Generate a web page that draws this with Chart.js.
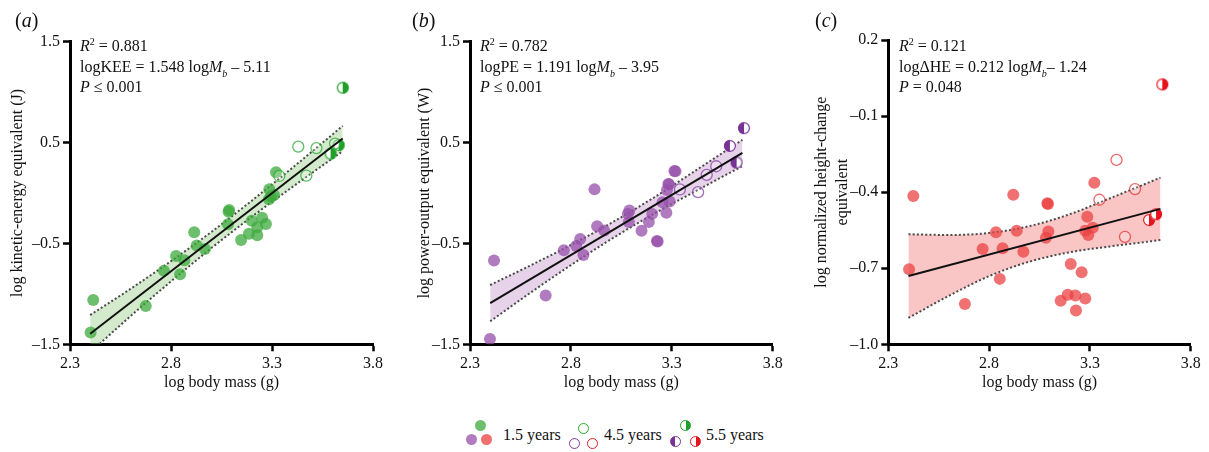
<!DOCTYPE html>
<html><head><meta charset="utf-8">
<script src="https://cdn.jsdelivr.net/npm/chart.js@4/dist/chart.umd.min.js"></script>
<style>
body{margin:0;width:1209px;height:452px;background:#fff;position:relative;overflow:hidden;font-family:"Liberation Serif","DejaVu Serif",serif;color:#111}
canvas{position:absolute;top:0}
.t{position:absolute;font-size:16px;line-height:18.5px;white-space:nowrap}
.t i{font-style:italic}
.sup{font-size:10px;position:relative;top:-6px}
.sub{font-size:10px;position:relative;top:5px;font-style:italic}
.lab{position:absolute;font-size:20px;line-height:22px}
.mk{position:absolute;width:11px;height:11px;border-radius:50%;box-sizing:border-box}
.lt{position:absolute;font-size:16px;line-height:18px;white-space:nowrap}
</style></head><body>
<canvas id="ca" width="400" height="400" style="left:0"></canvas>
<canvas id="cb" width="400" height="400" style="left:400px"></canvas>
<canvas id="cc" width="409" height="400" style="left:800px"></canvas>

<div class="lab" style="left:15px;top:9px">(<i>a</i>)</div>
<div class="lab" style="left:412px;top:9px">(<i>b</i>)</div>
<div class="lab" style="left:815px;top:9px">(<i>c</i>)</div>

<div class="t" style="left:80px;top:37px"><i>R</i><span class="sup">2</span> = 0.881<br>logKEE = 1.548 log<i>M</i><span class="sub">b</span> – 5.11<br><i>P</i> ≤ 0.001</div>
<div class="t" style="left:480px;top:37px"><i>R</i><span class="sup">2</span> = 0.782<br>logPE = 1.191 log<i>M</i><span class="sub">b</span> – 3.95<br><i>P</i> ≤ 0.001</div>
<div class="t" style="left:899px;top:37px"><i>R</i><span class="sup">2</span> = 0.121<br>logΔHE = 0.212 log<i>M</i><span class="sub">b</span>– 1.24<br><i>P</i> = 0.048</div>

<div class="mk" style="left:474.5px;top:419.5px;background:rgb(109,191,109)"></div>
<div class="mk" style="left:466px;top:434px;background:rgb(176,124,191)"></div>
<div class="mk" style="left:481px;top:434px;background:rgb(240,112,112)"></div>
<div class="lt" style="left:503px;top:426px">1.5 years</div>
<div class="mk" style="left:578px;top:423px;border:1.3px solid rgb(40,170,50)"></div>
<div class="mk" style="left:569px;top:438px;border:1.3px solid rgb(130,60,160)"></div>
<div class="mk" style="left:587px;top:438px;border:1.3px solid rgb(230,30,40)"></div>
<div class="lt" style="left:604px;top:426px">4.5 years</div>
<div class="mk" style="left:679.5px;top:420px;border:1.3px solid rgb(30,160,40);background:linear-gradient(to right,#fff 50%,rgb(30,160,40) 50%)"></div>
<div class="mk" style="left:670px;top:435.5px;border:1.3px solid rgb(120,50,150);background:linear-gradient(to right,rgb(120,50,150) 50%,#fff 50%)"></div>
<div class="mk" style="left:689.5px;top:435.5px;border:1.3px solid rgb(230,20,30);background:linear-gradient(to right,#fff 50%,rgb(230,20,30) 50%)"></div>
<div class="lt" style="left:706px;top:426px">5.5 years</div>

<script>
// ---- data ----
const X_TICKS = [2.3, 2.8, 3.3, 3.8];
const A_Y_TICKS = [-1.5, -0.5, 0.5, 1.5];
const B_Y_TICKS = [-1.5, -0.5, 0.5, 1.5];
const C_Y_TICKS = [-1.0, -0.7, -0.4, -0.1, 0.2];

const A_FILLED = [[2.402,-1.384],[2.415,-1.06],[2.675,-1.12],[2.765,-0.77],[2.845,-0.805],[2.825,-0.624],[2.866,-0.667],[2.915,-0.39],[2.927,-0.52],[2.968,-0.555],[3.085,-0.185],[3.082,-0.31],[3.088,-0.168],[3.147,-0.465],[3.186,-0.405],[3.2,-0.274],[3.227,-0.34],[3.227,-0.42],[3.251,-0.245],[3.27,-0.307],[3.287,0.037],[3.294,-0.036],[3.31,-0.02],[3.285,-0.062],[3.32,0.205]];
const A_OPEN = [[3.43,0.46],[3.52,0.445],[3.47,0.172],[3.612,0.49],[3.336,0.169]];
const A_HALF = [[3.65,1.044],[3.63,0.475],[3.59,0.39]];
const A_FIT = [[2.40,-1.395],[3.65,0.54]];

const B_FILLED = [[2.399,-1.447],[2.419,-0.67],[2.675,-1.017],[2.765,-0.568],[2.826,-0.525],[2.846,-0.456],[2.862,-0.614],[2.917,0.036],[2.93,-0.33],[2.965,-0.373],[3.082,-0.207],[3.09,-0.174],[3.087,-0.287],[3.15,-0.375],[3.186,-0.288],[3.203,-0.207],[3.226,-0.475],[3.23,-0.48],[3.254,-0.091],[3.273,-0.195],[3.276,0.03],[3.286,0.087],[3.289,-0.085],[3.313,0.218],[3.318,0.215],[3.283,0.09]];
const B_OPEN = [[3.43,0.008],[3.473,0.18],[3.52,0.265],[3.34,0.035]];
const B_HALF = [[3.658,0.643],[3.588,0.467],[3.621,0.302]];
const B_FIT = [[2.40,-1.092],[3.65,0.397]];

const C_FILLED = [[2.403,-0.704],[2.424,-0.415],[2.68,-0.841],[2.768,-0.624],[2.834,-0.558],[2.853,-0.742],[2.867,-0.621],[2.92,-0.41],[2.937,-0.552],[2.97,-0.635],[3.089,-0.444],[3.092,-0.447],[3.094,-0.555],[3.082,-0.58],[3.155,-0.828],[3.19,-0.805],[3.205,-0.683],[3.228,-0.808],[3.231,-0.867],[3.259,-0.716],[3.277,-0.819],[3.287,-0.497],[3.277,-0.552],[3.292,-0.569],[3.314,-0.54],[3.322,-0.363]];
const C_OPEN = [[3.347,-0.43],[3.474,-0.576],[3.524,-0.388],[3.432,-0.273]];
const C_HALF = [[3.659,0.025],[3.593,-0.51],[3.628,-0.487]];
const C_FIT = [[2.40,-0.731],[3.65,-0.466]];

const BAND_X = [2.40, 2.6, 2.8, 3.0, 3.2, 3.4, 3.65];
const A_UPPER = [-1.21,-0.95,-0.676,-0.386,-0.076,0.248,0.665];
const A_LOWER = [-1.58,-1.22,-0.876,-0.546,-0.236,0.058,0.415];
const B_UPPER = [-0.912,-0.718,-0.515,-0.297,-0.059,0.199,0.527];
const B_LOWER = [-1.272,-0.988,-0.715,-0.457,-0.219,-0.001,0.267];
const C_UPPER = [-0.566,-0.569,-0.561,-0.534,-0.487,-0.424,-0.343];
const C_LOWER = [-0.896,-0.809,-0.731,-0.674,-0.637,-0.614,-0.589];

// ---- drawing ----
function halfMarker(color, leftFilled){
  const c=document.createElement('canvas'); const s=16, r=6; c.width=s; c.height=s;
  const g=c.getContext('2d'); const m=s/2;
  g.beginPath(); g.arc(m,m,r,0,Math.PI*2); g.fillStyle='#fff'; g.fill();
  g.beginPath();
  if(leftFilled) g.arc(m,m,r,Math.PI/2,Math.PI*1.5); else g.arc(m,m,r,-Math.PI/2,Math.PI/2);
  g.closePath(); g.fillStyle=color; g.fill();
  g.beginPath(); g.arc(m,m,r-0.6,0,Math.PI*2); g.lineWidth=1.2; g.strokeStyle=color; g.stroke();
  return c;
}
const fmt = v => (v<0?'–':'') + Math.abs(v).toFixed(1);
const pts = a => a.map(p=>({x:p[0],y:p[1]}));
const FONT = {family:"'Liberation Serif', serif", size:16};

function makePanel(id, c){
  new Chart(document.getElementById(id), {
    type:'line',
    data:{datasets:[
      {data:BAND_X.map((x,i)=>({x,y:c.upper[i]})), borderColor:'#4a4a4a', borderWidth:2, borderDash:[2,2.2], pointRadius:0, fill:'+1', backgroundColor:c.band, cubicInterpolationMode:'monotone', order:5},
      {data:BAND_X.map((x,i)=>({x,y:c.lower[i]})), borderColor:'#4a4a4a', borderWidth:2, borderDash:[2,2.2], pointRadius:0, fill:false, cubicInterpolationMode:'monotone', order:4},
      {data:pts(c.filled), showLine:false, pointRadius:6, pointBackgroundColor:c.fillC, pointBorderColor:'rgba(0,0,0,0)', pointBorderWidth:0, order:3},
      {data:pts(c.open), showLine:false, pointRadius:5.5, pointBackgroundColor:'rgba(255,255,255,0.2)', pointBorderColor:c.openC, pointBorderWidth:1.3, order:2},
      {data:pts(c.half), showLine:false, pointStyle:halfMarker(c.halfC, c.halfLeft), pointRadius:6, order:2},
      {data:pts(c.fit), borderColor:'#111', borderWidth:2, pointRadius:0, fill:false, order:1}
    ]},
    options:{
      responsive:false, animation:false, devicePixelRatio:1, events:[],
      layout:{padding:{top:c.padTop, right:c.padRight, left:0, bottom:0}},
      plugins:{legend:{display:false}, tooltip:{enabled:false}},
      scales:{
        x:{type:'linear', min:2.3, max:3.8,
          afterBuildTicks:s=>{s.ticks=X_TICKS.map(v=>({value:v}));},
          afterFit:s=>{s.height=c.xH;},
          ticks:{callback:v=>fmt(v), color:'#111', font:FONT, padding:3, maxRotation:0, autoSkip:false},
          grid:{drawOnChartArea:false, drawTicks:true, tickLength:7, tickWidth:2.5, tickColor:'#000'},
          border:{display:true, width:3, color:'#000'},
          title:{display:true, text:'log body mass (g)', color:'#111', font:{...FONT, lineHeight:1.3}, padding:{top:0,bottom:6.6}}},
        y:{type:'linear', min:c.yMin, max:c.yMax,
          afterBuildTicks:s=>{s.ticks=c.yTicks.map(v=>({value:v}));},
          afterFit:s=>{s.width=c.yW;},
          ticks:{callback:v=>fmt(v), color:'#111', font:FONT, padding:3, autoSkip:false},
          grid:{drawOnChartArea:false, drawTicks:true, tickLength:7, tickWidth:2.5, tickColor:'#000'},
          border:{display:true, width:3, color:'#000'},
          title:{display:true, text:c.yTitle, color:'#111', font:{...FONT, lineHeight:1.3}, padding:{top:c.yTitlePad,bottom:0}}}
      }
    }
  });
}

makePanel('ca', {upper:A_UPPER, lower:A_LOWER, filled:A_FILLED, open:A_OPEN, half:A_HALF, fit:A_FIT,
  band:'rgba(140,200,120,0.38)', fillC:'rgba(60,170,60,0.75)', openC:'rgba(40,170,50,0.75)', halfC:'rgb(30,160,40)', halfLeft:false,
  padTop:41.7, padRight:27, xH:55.7, yW:70, yMin:-1.5, yMax:1.5, yTicks:A_Y_TICKS,
  yTitle:'log kinetic-energy equivalent (J)', yTitlePad:7.6});
makePanel('cb', {upper:B_UPPER, lower:B_LOWER, filled:B_FILLED, open:B_OPEN, half:B_HALF, fit:B_FIT,
  band:'rgba(190,140,200,0.38)', fillC:'rgba(150,80,170,0.75)', openC:'rgba(130,60,160,0.75)', halfC:'rgb(120,50,150)', halfLeft:true,
  padTop:41.7, padRight:27.3, xH:55.7, yW:70, yMin:-1.5, yMax:1.5, yTicks:B_Y_TICKS,
  yTitle:'log power-output equivalent (W)', yTitlePad:14.6});
makePanel('cc', {upper:C_UPPER, lower:C_LOWER, filled:C_FILLED, open:C_OPEN, half:C_HALF, fit:C_FIT,
  band:'rgba(240,110,110,0.4)', fillC:'rgba(235,65,65,0.75)', openC:'rgba(230,40,40,0.7)', halfC:'rgb(230,20,30)', halfLeft:false,
  padTop:40, padRight:18.3, xH:55.7, yW:88.3, yMin:-1.0, yMax:0.2, yTicks:C_Y_TICKS,
  yTitle:['log normalized height-change','equivalent'], yTitlePad:11.6});
</script>
</body></html>
